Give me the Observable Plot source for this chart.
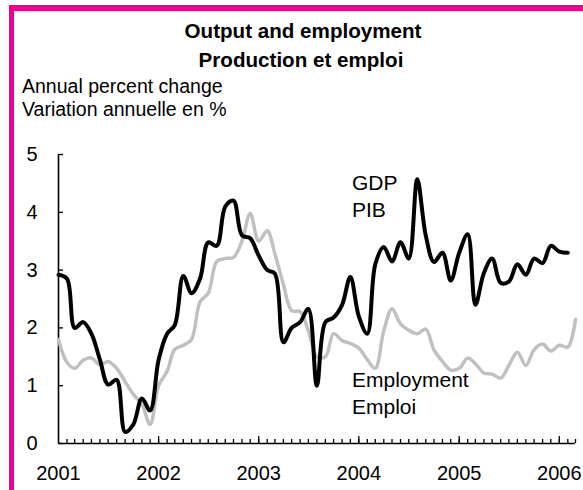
<!DOCTYPE html>
<html><head><meta charset="utf-8">
<script src="https://cdn.jsdelivr.net/npm/d3@7"></script>
<script src="https://cdn.jsdelivr.net/npm/@observablehq/plot@0.6"></script>
<style>
body{margin:0;background:#fff;}
#wrap{position:relative;width:583px;height:490px;overflow:hidden;font-family:"Liberation Sans",Arial,sans-serif;color:#000;background:#fff;}
#header{position:relative;height:140px;}
.t{position:absolute;white-space:nowrap;line-height:1;}
.pink{position:absolute;background:#EC008C;}
#chart svg{display:block;}
</style></head><body>
<div id="wrap">
  <div id="header">
    <div class="t" style="left:303px;top:21px;transform:translateX(-50%);font-weight:bold;font-size:20.6px">Output and employment</div>
    <div class="t" style="left:301px;top:50px;transform:translateX(-50%);font-weight:bold;font-size:20.6px">Production et emploi</div>
    <div class="t" style="left:22px;top:77px;font-size:19.5px">Annual percent change</div>
    <div class="t" style="left:22px;top:100px;font-size:19.5px">Variation annuelle en %</div>
  </div>
  <div id="chart"></div>
  <div class="pink" style="left:9px;top:5px;width:574px;height:5.5px"></div>
  <div class="pink" style="left:9px;top:5px;width:5px;height:485px"></div>
</div>
<script>
const startMonth = "2001-01";
// GDP, annual % change, monthly Jan 2001 - Feb 2006
const gdp = [
  2.92, 2.85, 2.0, 2.1, 1.9, 1.45, 1.02, 1.1, 0.2, 0.33, 0.78, 0.57,
  1.45, 1.9, 2.05, 2.9, 2.6, 2.85, 3.48, 3.42, 4.1, 4.2, 3.6, 3.55,
  3.25, 3.0, 2.94, 1.75, 2.0, 2.1, 2.33, 1.0, 2.1, 2.18, 2.4, 2.88,
  2.2, 1.9, 3.1, 3.4, 3.15, 3.48, 3.2, 4.57, 3.6, 3.14, 3.3, 2.82,
  3.3, 3.62, 2.4, 2.95, 3.2, 2.78, 2.8, 3.1, 2.92, 3.2, 3.12, 3.42,
  3.32, 3.3
];
// Employment, annual % change, monthly Jan 2001 - Mar 2006
const employment = [
  1.8, 1.4, 1.3, 1.44, 1.48, 1.36, 1.42, 1.3, 1.07, 0.85, 0.68, 0.33,
  1.0, 1.25, 1.63, 1.7, 1.8, 2.45, 2.6, 3.15, 3.2, 3.22, 3.5, 3.98,
  3.5, 3.68, 3.28, 2.75, 2.3, 2.28, 1.95, 1.5, 1.5, 1.9, 1.78, 1.73,
  1.65, 1.45, 1.3, 1.95, 2.33, 2.07, 1.96, 1.9, 1.98, 1.62, 1.42, 1.27,
  1.3, 1.48, 1.38, 1.22, 1.2, 1.13, 1.35, 1.58, 1.35, 1.62, 1.72, 1.6,
  1.7, 1.67, 2.15
];
const yTicks = [0, 1, 2, 3, 4, 5];
const yearTicks = [2001, 2002, 2003, 2004, 2005, 2006];
const labelTexts = ["GDP\nPIB", "Employment\nEmploi"];
const labelDates = ["2003-12-07", "2003-12-07"];
const labelValues = [4.72, 1.31];

const start = d3.utcParse("%Y-%m")(startMonth);
const rows = vals => vals.map((v, i) => ({date: d3.utcMonth.offset(start, i), value: v}));
const gdpRows = rows(gdp);
const empRows = rows(employment);
const end = empRows[empRows.length - 1].date;
const monthTicks = d3.utcMonth.range(d3.utcMonth.offset(start, 1), d3.utcMonth.offset(end, 1));
const yearDates = yearTicks.map(y => new Date(Date.UTC(y, 0, 1)));
const labels = labelTexts.map((t, i) => ({text: t, date: d3.utcParse("%Y-%m-%d")(labelDates[i]), value: labelValues[i]}));

const W = 583, H = 350, mT = 14, mB = 47, mL = 58, mR = 8;
const innerH = H - mT - mB, innerW = W - mL - mR;
const font = '"Liberation Sans", Arial, sans-serif';

const chart = Plot.plot({
  width: W, height: H,
  marginTop: mT, marginBottom: mB, marginLeft: mL, marginRight: mR,
  style: {fontFamily: font, fontSize: "20px", color: "#000", background: "transparent", overflow: "visible"},
  x: {type: "utc", domain: [start, end], label: null},
  y: {domain: [0, 5], label: null},
  marks: [
    Plot.axisY(yTicks, {tickSize: 0, tickPadding: 21, fontSize: 20, tickFormat: d3.format("d"), label: null}),
    Plot.axisX(yearDates, {tickSize: 0, tickPadding: 22, fontSize: 20, tickFormat: d3.utcFormat("%Y"), label: null}),
    Plot.tickX(monthTicks, {x: d => d, insetTop: innerH - 4, strokeWidth: 1.3}),
    Plot.tickX(yearDates.filter(d => d > start), {x: d => d, insetTop: innerH - 7, strokeWidth: 1.3}),
    Plot.tickY(yTicks, {y: d => d, insetRight: innerW - 5, strokeWidth: 1.3}),
    Plot.ruleY([0], {strokeWidth: 1.6}),
    Plot.ruleX([start], {strokeWidth: 1.6}),
    Plot.lineY(empRows, {x: "date", y: "value", stroke: "#c0c0c0", strokeWidth: 3.5, curve: "catmull-rom"}),
    Plot.lineY(gdpRows, {x: "date", y: "value", stroke: "#000", strokeWidth: 4, curve: "catmull-rom"}),
    Plot.text(labels, {x: "date", y: "value", text: "text", textAnchor: "start", lineAnchor: "top", fontSize: 21, lineHeight: 1.3, fill: "#000"})
  ]
});
document.getElementById("chart").appendChild(chart);
</script>
</body></html>
